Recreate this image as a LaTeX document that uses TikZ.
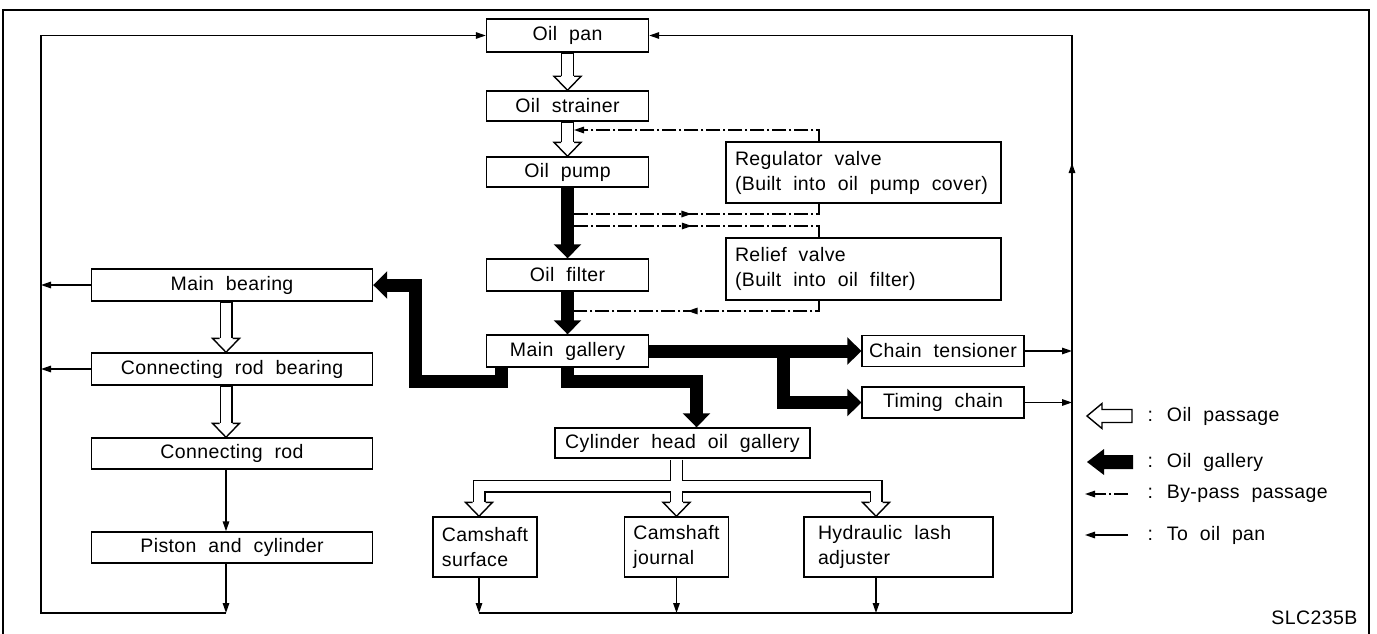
\documentclass[tikz,border=0pt]{standalone}
\usepackage{fontspec}
\setmainfont{Liberation Sans}[LetterSpace=2]
\usepackage{tikz}
\usetikzlibrary{arrows.meta,decorations.markings}

\newcommand{\widespace}{\spaceskip=0.61em plus 0.1em\relax}
\newcommand{\boxfont}{\fontsize{19.5}{25}\selectfont\widespace}
% hollow head of an oil passage, tip at #1, pointing down
\newcommand{\headdown}[1]{\draw[fill=white,line join=miter] (#1) ++(-6.5,-14) -- ++(-7,0) -- ++(13.5,14) -- ++(13.5,-14) -- ++(-7,0);}
% oil passage straight down from #1 to #2
\newcommand{\passage}[2]{%
	\draw[pipe] (#1) -- ([yshift=14pt]#2);
	\draw[pipein] ([yshift=-1pt]#1) -- ([yshift=14pt]#2);
	\headdown{#2}}

\begin{document}
\begin{tikzpicture}[x=1pt, y=-1pt, line width=1.4pt,
	box/.style={draw, fill=white, inner sep=0pt, align=center, font=\boxfont},
	valvebox/.style={box, align=left},
	pipe/.style={line width=13pt, line join=miter},
	pipein/.style={line width=10.4pt, line join=miter, white},
	galleryarrow/.style={line width=13pt, line join=miter, -{Triangle[length=14pt,width=27pt]}},
	topan/.style={-{Triangle[length=10pt,width=6.5pt]}},
	bypass/.style={dash pattern=on 14pt off 3pt on 2pt off 3pt},
	midarrow/.style={postaction={decorate}, decoration={markings, mark=at position #1 with {\arrow{Triangle[length=10pt,width=6.5pt]}}}},
	legend/.style={anchor=west, inner sep=0pt, font=\boxfont}
]
\useasboundingbox (0,0) rectangle (1377,634);
\draw[line width=1.6pt] (3,634) -- (3,10) -- (1369,10) -- (1369,634);

% main line
\node[box, minimum width=162pt, minimum height=33pt] (pan) at (567.5,35.5) {Oil pan};
\node[box, minimum width=162pt, minimum height=30pt] (strainer) at (567.5,106) {Oil strainer};
\node[box, minimum width=162pt, minimum height=30pt] (pump) at (567.5,172) {Oil pump};
\node[box, minimum width=162pt, minimum height=32pt] (filter) at (567.5,275) {Oil filter};
\node[box, minimum width=162pt, minimum height=32pt] (maingal) at (567.5,351) {Main gallery};
\node[valvebox, text width=257pt, minimum width=275pt, minimum height=61pt] (regulator) at (863.5,172.5) {\widespace Regulator valve\\(Built into oil pump cover)};
\node[valvebox, text width=257pt, minimum width=275pt, minimum height=62pt] (relief) at (863.5,269) {\widespace Relief valve\\(Built into oil filter)};
\node[box, minimum width=162pt, minimum height=31pt] (tensioner) at (943,351) {Chain tensioner};
\node[box, minimum width=162pt, minimum height=31pt] (timing) at (943,402.5) {Timing chain};

% cylinder head
\node[box, minimum width=255pt, minimum height=30pt] (cylhead) at (682.5,443) {Cylinder head oil gallery};
\node[valvebox, minimum width=104pt, minimum height=60pt] (camsurf) at (485,547) {Camshaft\\surface};
\node[valvebox, minimum width=104pt, minimum height=60pt] (camjour) at (676.5,547) {Camshaft\\journal};
\node[valvebox, text width=161pt, minimum width=189pt, minimum height=60pt] (lash) at (898.5,547) {\widespace Hydraulic lash\\adjuster};

% crank side
\node[box, minimum width=281pt, minimum height=32pt] (mainbr) at (232,285) {Main bearing};
\node[box, minimum width=281pt, minimum height=32pt] (crbr) at (232,369) {Connecting rod bearing};
\node[box, minimum width=281pt, minimum height=31pt] (crod) at (232,453.5) {Connecting rod};
\node[box, minimum width=281pt, minimum height=31pt] (piston) at (232,547.5) {Piston and cylinder};

\coordinate (retL) at (41,613);
\coordinate (retR) at (1072,613);
\coordinate (mbS) at ([xshift=-6pt]mainbr.south);
\coordinate (crN) at ([xshift=-6pt]crbr.north);
\coordinate (crS) at ([xshift=-6pt]crbr.south);
\coordinate (rodN) at ([xshift=-6pt]crod.north);
\coordinate (chS) at ([xshift=-6pt]cylhead.south);
\coordinate (split) at (676.5,486);
\coordinate (csT) at ([xshift=-6pt]camsurf.north);
\coordinate (cjT) at (camjour.north);
\coordinate (laT) at ([xshift=-22.5pt]lash.north);
\coordinate (bpS) at (574,130);
\coordinate (bpP1) at (574,214);
\coordinate (bpP2) at (574,226);
\coordinate (bpF) at (574,311);

% oil passages
\passage{pan.south}{strainer.north}
\passage{strainer.south}{pump.north}
\passage{mbS}{crN}
\passage{crS}{rodN}
\foreach \p in {pipe, pipein} {
	\draw[\p] ([yshift=-1pt]chS) -- ([yshift=14pt]cjT);
	\draw[\p] ([yshift=14pt]csT) -- (csT |- split) -- (laT |- split) -- ([yshift=14pt]laT);
}
\headdown{csT}
\headdown{cjT}
\headdown{laT}

% oil gallery
\draw[galleryarrow] (pump.south) -- (filter.north);
\draw[galleryarrow] (filter.south) -- (maingal.north);
\draw[galleryarrow] ([xshift=-66pt]maingal.south) -- ++(0,14) -| ([xshift=42pt]mainbr.east) -- (mainbr.east);
\draw[galleryarrow] (maingal.south) -- ++(0,14) -| ([xshift=14pt]cylhead.north);
\draw[galleryarrow] (maingal.east) -- (tensioner.west);
\draw[galleryarrow] ([xshift=-78pt]tensioner.west) |- (timing.west);

% by-pass
\draw[bypass, topan] ([xshift=-44.5pt]regulator.north) |- (bpS);
\draw[bypass, midarrow=0.46] (bpP1) -| ([xshift=-44.5pt]regulator.south);
\draw[bypass, midarrow=0.46] (bpP2) -| ([xshift=-44.5pt]relief.north);
\draw[bypass, midarrow=0.555] ([xshift=-44.5pt]relief.south) |- (bpF);

% back to oil pan
\draw[topan] (mainbr.west) -- (mainbr.west -| retL);
\draw[topan] (crbr.west) -- (crbr.west -| retL);
\draw[topan] ([xshift=-6pt]crod.south) -- ([xshift=-6pt]piston.north);
\draw[topan] ([xshift=-6pt]piston.south) -- ([xshift=-6pt]piston.south |- retL);
\draw[topan] ([xshift=-6pt]piston.south |- retL) -- (retL) -- (retL |- pan.west) -- (pan.west);
\foreach \c in {csT, cjT, laT}
	\draw[topan] (\c |- camsurf.south) -- (\c |- retR);
\draw (csT |- retR) -- (retR);
\draw[topan] (retR) -- ++(0,-450);
\draw[topan] (retR) -- (retR |- pan.east) -- (pan.east);
\draw[topan] (tensioner.east) -- (tensioner.east -| retR);
\draw[topan] (timing.east) -- (timing.east -| retR);

% legend
\draw[fill=white, line join=miter] (1087,416) -- ++(15,-12.5) -- ++(0,6) -- ++(30,0) -- ++(0,13) -- ++(-30,0) -- ++(0,6) -- cycle;
\fill (1087,462) -- ++(17,-13) -- ++(0,6) -- ++(29,0) -- ++(0,14) -- ++(-29,0) -- ++(0,6) -- cycle;
\draw[bypass, topan] (1128,494) -- (1085,494);
\draw[topan] (1128,535) -- (1085,535);
\node[legend] (lgpassage) at (1147,416) {: Oil passage};
\node[legend] (lggallery) at (1147,462) {: Oil gallery};
\node[legend] (lgbypass) at (1147,494) {: By-pass passage};
\node[legend] (lgpan) at (1147,535) {: To oil pan};
\node[anchor=east, inner sep=0pt, font=\boxfont] (code) at (1358,618) {SLC235B};
\end{tikzpicture}
\end{document}
